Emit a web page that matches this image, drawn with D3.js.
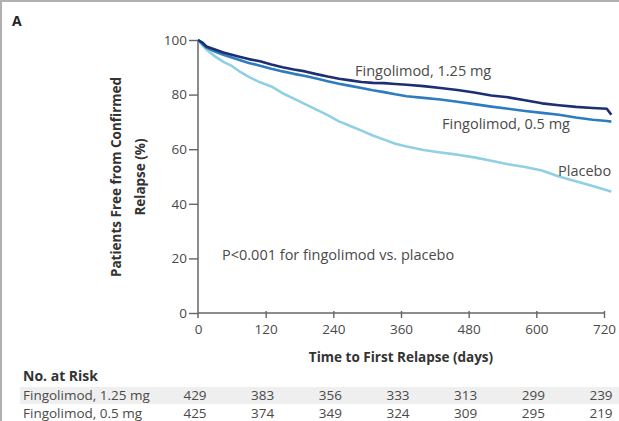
<!DOCTYPE html>
<html>
<head>
<meta charset="utf-8">
<script src="https://cdn.jsdelivr.net/npm/d3@7"></script>
<style>
  body { margin: 0; background: #fff; }
  svg { display: block; font-family: "Open Sans", sans-serif; }
</style>
</head>
<body>
<div id="chart"></div>
<script>
//// data
var days = [0, 8, 15, 30, 45, 60, 75, 90, 110, 130, 150, 170, 190, 210, 230, 250, 270, 290,
            310, 330, 350, 370, 400, 430, 460, 490, 520, 550, 580, 610, 640, 670, 700, 725, 733];

var fingo125 = [100, 99, 97.6, 96.5, 95.4, 94.6, 93.8, 93, 92.2, 91, 90, 89.2, 88.5, 87.5, 86.6, 85.8, 85.2, 84.6,
                84.3, 84.2, 83.9, 83.6, 83.1, 82.4, 81.7, 80.8, 79.7, 79, 77.9, 76.8, 76.1, 75.5, 75.1, 74.8, 72.6];

var fingo05 = [100, 98.6, 97.2, 95.8, 94.6, 93.6, 92.6, 91.6, 90.6, 89.5, 88.5, 87.6, 86.8, 85.9, 84.9, 84, 83.2, 82.4,
               81.6, 80.9, 80.1, 79.4, 78.8, 78.2, 77.4, 76.5, 75.6, 74.8, 74, 73.3, 72.6, 71.6, 70.8, 70.3, 70.1];

var placebo = [100, 98, 96.5, 94, 92, 90.5, 88.3, 86.5, 84.5, 83, 80.5, 78.5, 76.5, 74.5, 72.5, 70.2, 68.5, 66.8,
               65, 63.5, 62, 61, 59.7, 58.8, 58, 57, 55.8, 54.5, 53.5, 52.2, 50, 48.3, 46.5, 45, 44.4];

var xTicks = [0, 120, 240, 360, 480, 600, 720];
var yTicks = [0, 20, 40, 60, 80, 100];

var riskRows = ["Fingolimod, 1.25 mg", "Fingolimod, 0.5 mg"];
var risk125 = [429, 383, 356, 333, 313, 299, 239];
var risk05 = [425, 374, 349, 324, 309, 295, 219];

//// chart
var width = 619, height = 421;
var svg = d3.select("#chart").append("svg")
    .attr("width", width)
    .attr("height", height);

var xScale = d3.scaleLinear().domain([0, 720]).range([198, 604]);
var yScale = d3.scaleLinear().domain([0, 100]).range([313, 40]);

var textColor = "#4a4a4a";

//// frame (cropped panel border)
svg.append("line").attr("x1", 0).attr("x2", width).attr("y1", 1).attr("y2", 1)
    .attr("stroke", "#b0b0b0").attr("stroke-width", 2);
svg.append("line").attr("x1", 1).attr("x2", 1).attr("y1", 0).attr("y2", height)
    .attr("stroke", "#b0b0b0").attr("stroke-width", 2);

svg.append("text").attr("x", 12).attr("y", 26)
    .attr("font-weight", "bold").attr("font-size", 14).attr("fill", "#222")
    .text("A");

//// axes
var yAxis = svg.append("g")
    .attr("transform", "translate(198,0)")
    .call(d3.axisLeft(yScale).tickValues(yTicks).tickSize(9).tickSizeOuter(0).tickPadding(2));

var xAxis = svg.append("g")
    .attr("transform", "translate(0,313)")
    .call(d3.axisBottom(xScale).tickValues(xTicks).tickSize(5).tickSizeOuter(0).tickPadding(6));

[yAxis, xAxis].forEach(function (g) {
  g.select(".domain").remove();
  g.selectAll(".tick line").attr("stroke", "#666").attr("stroke-width", 1.4);
  g.selectAll(".tick text").attr("font-size", 13.5).attr("fill", textColor)
      .attr("font-family", "Open Sans, sans-serif");
});
xAxis.selectAll(".tick line").attr("y1", -2);
xAxis.selectAll(".tick").filter(function (d) { return d === 0; }).select("line").remove();

svg.append("line").attr("x1", 198).attr("x2", 198).attr("y1", yScale(100)).attr("y2", 318)
    .attr("stroke", "#666").attr("stroke-width", 1.5);
svg.append("line").attr("x1", 198).attr("x2", xScale(720)).attr("y1", 313).attr("y2", 313)
    .attr("stroke", "#666").attr("stroke-width", 1.5);

//// axis titles
svg.append("text")
    .attr("transform", "translate(121,177) rotate(-90)")
    .attr("text-anchor", "middle").attr("font-weight", "bold").attr("font-size", 13.5)
    .attr("fill", "#333")
    .text("Patients Free from Confirmed");
svg.append("text")
    .attr("transform", "translate(145,177) rotate(-90)")
    .attr("text-anchor", "middle").attr("font-weight", "bold").attr("font-size", 13.5)
    .attr("fill", "#333")
    .text("Relapse (%)");

svg.append("text")
    .attr("x", 401).attr("y", 362)
    .attr("text-anchor", "middle").attr("font-weight", "bold").attr("font-size", 13.5)
    .attr("fill", "#333")
    .text("Time to First Relapse (days)");

//// curves
var line = d3.line()
    .x(function (d) { return xScale(d[0]); })
    .y(function (d) { return yScale(d[1]); });

var series = [
  { values: placebo, color: "#8fd0e3" },
  { values: fingo05, color: "#2e7cc0" },
  { values: fingo125, color: "#1d2f72" }
];

series.forEach(function (s) {
  svg.append("path")
      .datum(days.map(function (t, i) { return [t, s.values[i]]; }))
      .attr("fill", "none")
      .attr("stroke", s.color)
      .attr("stroke-width", 2.6)
      .attr("stroke-linejoin", "round")
      .attr("d", line);
});

//// curve labels
var labels = [
  { text: "Fingolimod, 1.25 mg", x: 355, y: 76 },
  { text: "Fingolimod, 0.5 mg", x: 442, y: 129 },
  { text: "Placebo", x: 558, y: 176 },
  { text: "P<0.001 for fingolimod vs. placebo", x: 222, y: 260 }
];
svg.selectAll(".lbl").data(labels).enter().append("text")
    .attr("class", "lbl")
    .attr("x", function (d) { return d.x; })
    .attr("y", function (d) { return d.y; })
    .attr("font-size", 14.5)
    .attr("fill", textColor)
    .text(function (d) { return d.text; });

//// number at risk table
svg.append("rect").attr("x", 20).attr("y", 387).attr("width", width - 20).attr("height", 17)
    .attr("fill", "#efefef");

svg.append("text").attr("x", 23).attr("y", 381)
    .attr("font-weight", "bold").attr("font-size", 14).attr("fill", "#333")
    .text("No. at Risk");

[risk125, risk05].forEach(function (vals, r) {
  var y = 400 + r * 18;
  svg.append("text").attr("x", 23).attr("y", y)
      .attr("font-size", 13.5).attr("fill", textColor)
      .text(riskRows[r]);
  svg.selectAll(".risk" + r).data(vals).enter().append("text")
      .attr("class", "risk" + r)
      .attr("x", function (d, i) { return xScale(xTicks[i]) - 3; })
      .attr("y", y)
      .attr("text-anchor", "middle")
      .attr("font-size", 13.5).attr("fill", textColor)
      .text(function (d) { return d; });
});
</script>
</body>
</html>
